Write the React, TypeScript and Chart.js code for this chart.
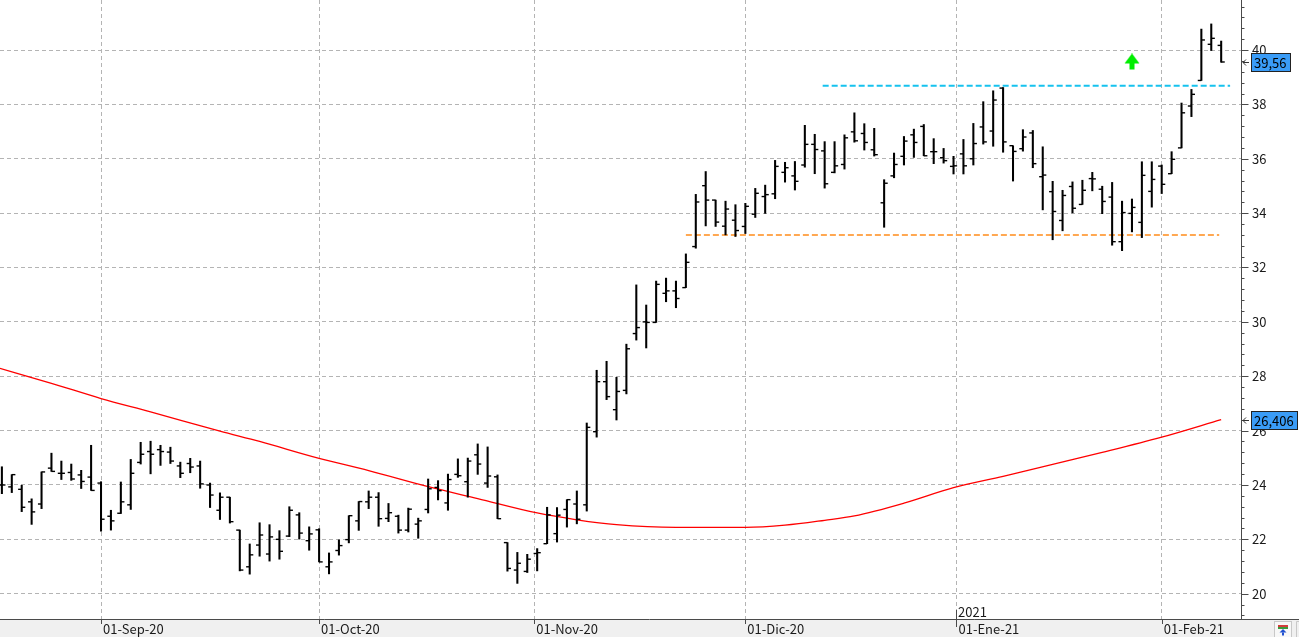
import React, { useEffect, useRef } from 'react';
import { Chart, registerables } from 'chart.js';

Chart.register(...registerables);

// ---------- DATA (daily OHLC, index 0 = first bar on the left) ----------
const opens = [
  24.0, 23.93, 23.84, 23.38, 23.3, 24.62, 24.43, 24.46, 24.37, 24.29,
  24.07, 22.85, 22.96, 23.27, 24.83, 25.23, 25.3, 25.21, 24.7, 24.79,
  24.7, 24.0, 23.07, 23.55, 22.34, 20.99, 21.79, 21.46, 22.0, 22.12,
  22.9, 21.95, 22.35, 20.99, 21.59, 21.99, 22.68, 23.38, 23.55, 22.77,
  22.85, 22.34, 22.56, 23.1, 23.91, 23.34, 24.39, 24.12, 25.11, 24.07,
  24.3, 21.88, 20.87, 20.82, 21.48, 21.84, 22.21, 23.1, 23.3, 23.27,
  25.96, 27.8, 26.77, 27.48, 29.57, 30.0, 29.98, 31.05, 31.14, 31.26,
  32.77, 35.01, 34.48, 33.52, 33.74, 33.51, 33.96, 34.61, 34.71, 35.5,
  35.37, 35.77, 36.53, 36.29, 35.5, 35.79, 36.99, 36.93, 36.33, 34.38,
  35.37, 36.09, 36.88, 37.19, 36.26, 36.04, 35.72, 36.18, 36.0, 37.17,
  37.02, 38.6, 36.48, 36.37, 36.95, 35.34, 34.79, 33.73, 34.98, 34.32,
  35.27, 34.88, 34.59, 32.95, 33.99, 33.66, 34.8, 35.73, 35.45, 36.4,
  37.94, 38.88, 40.21, 40.17,
];
const highs = [
  24.67, 24.38, 23.99, 23.49, 24.48, 25.17, 24.88, 24.77, 24.54, 25.46,
  24.12, 23.07, 24.11, 24.94, 25.57, 25.61, 25.46, 25.39, 24.84, 24.98,
  24.88, 24.07, 23.71, 23.55, 22.34, 21.83, 22.61, 22.54, 22.32, 23.2,
  22.98, 22.46, 22.39, 21.5, 21.98, 22.87, 23.39, 23.78, 23.72, 23.32,
  22.89, 23.15, 22.78, 24.22, 24.16, 24.4, 24.96, 24.99, 25.51, 25.4,
  24.37, 21.88, 21.52, 21.45, 21.66, 23.18, 23.17, 23.46, 23.78, 26.28,
  28.22, 28.55, 27.96, 29.18, 31.36, 30.62, 31.5, 31.61, 31.5, 32.5,
  34.69, 35.53, 34.48, 34.44, 34.31, 34.36, 34.91, 35.03, 35.94, 35.87,
  35.9, 37.23, 36.9, 36.63, 36.63, 36.88, 37.69, 37.29, 37.12, 35.23,
  36.21, 36.82, 37.09, 37.26, 36.74, 36.38, 36.09, 36.71, 37.3, 38.1,
  38.5, 38.62, 36.48, 37.07, 37.04, 36.44, 35.17, 34.84, 35.15, 35.21,
  35.5, 34.99, 35.13, 34.44, 34.52, 35.89, 35.89, 35.77, 36.26, 38.05,
  38.55, 40.77, 40.96, 40.33,
];
const lows = [
  23.68, 23.72, 23.02, 22.55, 23.13, 24.5, 24.2, 24.17, 23.87, 23.8,
  22.3, 22.34, 22.95, 23.1, 24.77, 24.41, 24.72, 24.79, 24.27, 24.45,
  23.88, 23.17, 22.73, 22.6, 20.84, 20.72, 21.38, 21.2, 21.27, 22.1,
  22.01, 21.6, 21.17, 20.73, 21.42, 21.87, 22.33, 23.13, 22.48, 22.65,
  22.23, 22.27, 22.04, 22.97, 23.45, 23.07, 24.28, 23.55, 24.39, 23.91,
  22.76, 20.83, 20.38, 20.78, 20.84, 21.84, 21.9, 22.45, 22.57, 23.04,
  25.76, 27.14, 26.39, 27.35, 29.33, 29.04, 29.98, 30.74, 30.52, 31.26,
  32.71, 33.53, 33.51, 33.2, 33.14, 33.25, 33.84, 33.99, 34.53, 35.14,
  34.85, 35.69, 35.45, 34.92, 35.48, 35.62, 36.61, 36.32, 36.1, 33.48,
  35.3, 35.77, 36.05, 36.11, 35.82, 35.84, 35.44, 35.44, 35.77, 36.54,
  36.46, 36.24, 35.18, 36.28, 35.67, 34.12, 33.02, 33.35, 34.01, 34.32,
  34.82, 33.98, 32.82, 32.62, 33.31, 33.1, 34.22, 34.72, 35.45, 36.4,
  37.55, 38.88, 39.98, 39.55,
];
const closes = [
  24.0, 24.38, 23.18, 23.01, 24.48, 24.5, 24.43, 24.22, 24.13, 23.8,
  22.74, 22.68, 23.38, 24.43, 25.13, 25.13, 25.23, 24.88, 24.43, 24.66,
  24.04, 23.63, 23.55, 22.65, 20.87, 21.43, 22.16, 22.09, 21.56, 23.07,
  22.23, 22.2, 21.17, 21.17, 21.77, 22.87, 23.39, 23.55, 22.76, 22.98,
  22.34, 23.11, 22.68, 23.86, 23.79, 24.2, 24.34, 24.88, 24.77, 24.33,
  22.76, 20.93, 21.12, 21.27, 21.51, 22.9, 22.89, 23.46, 22.74, 26.12,
  27.8, 27.25, 27.44, 29.01, 29.79, 29.98, 31.38, 31.14, 30.86, 32.19,
  34.41, 34.48, 33.67, 34.15, 33.36, 34.25, 34.73, 34.68, 35.72, 35.67,
  35.17, 36.53, 36.34, 35.08, 35.74, 36.77, 36.66, 36.6, 36.15, 35.1,
  35.79, 36.65, 36.6, 36.11, 36.26, 35.93, 35.74, 35.74, 36.56, 36.62,
  38.16, 36.62, 36.27, 36.8, 35.82, 35.4, 34.06, 34.65, 34.18, 34.84,
  35.26, 34.43, 32.95, 34.02, 34.21, 35.39, 35.24, 35.06, 35.98, 37.69,
  38.37, 40.37, 40.43, 39.56,
];

// moving average (x = bar index)
const maX = [-0.2, 5, 10, 15, 22, 26, 32, 37, 43, 48, 54, 58, 62, 68, 75, 79, 83, 86, 91, 96, 101, 106, 111, 117, 123];
const maY = [28.29, 27.74, 27.18, 26.69, 25.98, 25.6, 24.98, 24.53, 23.94, 23.5, 22.97, 22.72, 22.54, 22.44, 22.44, 22.52, 22.7, 22.86, 23.33, 23.9, 24.32, 24.76, 25.2, 25.76, 26.406];

const monthTicks = [10, 32, 53.7, 75, 96.3, 117];
const monthLabels = ['01-Sep-20', '01-Oct-20', '01-Nov-20', '01-Dic-20', '01-Ene-21', '01-Feb-21'];
const yearTick = 96.3;
const yearLabel = '2021';
const priceTicks = [20, 22, 24, 26, 28, 30, 32, 34, 36, 38, 40];

const resistanceLevel = 38.69;
const resistanceRange = [82.8, 123.9];
const supportLevel = 33.2;
const supportRange = [69, 122.8];
const arrowPoint = { x: 114, y: 39.56 };

const Y_MIN = 19.07;
const Y_MAX = 41.84;
const X_MIN = -0.19;
const X_MAX = 125;

const FONT = "'Noto Sans CJK KR', 'Noto Sans', sans-serif";
const TICK_OFF = 0.18;

function fmt(v: number): string {
  return String(v).replace('.', ',');
}

function makeArrow(): HTMLCanvasElement {
  const c = document.createElement('canvas');
  c.width = 16;
  c.height = 17;
  const g = c.getContext('2d')!;
  g.fillStyle = '#00ee00';
  g.beginPath();
  g.moveTo(8, 0);
  g.lineTo(15.5, 10);
  g.lineTo(10.5, 10);
  g.lineTo(10.5, 16);
  g.lineTo(5.5, 16);
  g.lineTo(5.5, 10);
  g.lineTo(0.5, 10);
  g.closePath();
  g.fill();
  return c;
}

const decorPlugin = {
  id: 'decor',
  beforeDraw(chart: any) {
    const { ctx, width, height, chartArea } = chart;
    ctx.save();
    ctx.fillStyle = '#ffffff';
    ctx.fillRect(0, 0, width, height);
    ctx.fillStyle = '#f0f0f0';
    ctx.fillRect(0, chartArea.bottom, width, height - chartArea.bottom);
    ctx.restore();
  },
  afterDraw(chart: any) {
    const { ctx, width, height, chartArea } = chart;
    const xs = chart.scales.x;
    const ys = chart.scales.y;
    const bottom = Math.round(chartArea.bottom);
    const right = Math.round(chartArea.right);
    ctx.save();
    ctx.strokeStyle = '#4a4a4a';
    ctx.lineWidth = 1;
    ctx.setLineDash([]);
    ctx.beginPath();
    ctx.moveTo(0, bottom + 0.5);
    ctx.lineTo(width, bottom + 0.5);
    ctx.moveTo(right + 0.5, 0);
    ctx.lineTo(right + 0.5, bottom);
    // right axis tick marks (minor every 0.4, major every 2)
    for (let k = 48; k <= 104; k++) {
      const v = k * 0.4;
      if (v < Y_MIN || v > Y_MAX) continue;
      const y = Math.round(ys.getPixelForValue(v)) + 0.5;
      const len = k % 5 === 0 ? 7 : 3;
      ctx.moveTo(right + 0.5, y);
      ctx.lineTo(right + 0.5 + len, y);
    }
    // bottom axis tick marks
    monthTicks.forEach((t) => {
      const x = Math.round(xs.getPixelForValue(t)) + 0.5;
      ctx.moveTo(x, bottom);
      ctx.lineTo(x, bottom + 5);
    });
    const yx = Math.round(xs.getPixelForValue(yearTick)) + 0.5;
    ctx.moveTo(yx, bottom - 9);
    ctx.lineTo(yx, bottom + 8);
    ctx.stroke();

    // year label
    ctx.fillStyle = '#1a1a1a';
    ctx.font = `13px ${FONT}`;
    ctx.textAlign = 'left';
    ctx.textBaseline = 'alphabetic';
    ctx.fillText(yearLabel, yx + 1.5, bottom - 2);

    // value boxes on the right axis
    const boxes = [closes[closes.length - 1], maY[maY.length - 1]];
    boxes.forEach((v) => {
      const y = Math.round(ys.getPixelForValue(v));
      const txt = fmt(v);
      ctx.font = `13px ${FONT}`;
      const w = Math.ceil(ctx.measureText(txt).width) + 6;
      const bx = right + 10.5;
      const by = y - 8.5;
      ctx.fillStyle = '#3a9cf7';
      ctx.fillRect(bx, by, w, 18);
      ctx.strokeStyle = '#222222';
      ctx.lineWidth = 1;
      ctx.strokeRect(bx, by, w, 18);
      ctx.fillStyle = '#000000';
      ctx.textBaseline = 'middle';
      ctx.fillText(txt, bx + 2.5, y + 1);
      // little pointer
      ctx.strokeStyle = '#333333';
      ctx.beginPath();
      ctx.moveTo(right + 8, y + 0.5);
      ctx.lineTo(right + 2, y + 0.5);
      ctx.moveTo(right + 5, y - 2.5);
      ctx.lineTo(right + 2, y + 0.5);
      ctx.lineTo(right + 5, y + 3.5);
      ctx.stroke();
    });

    // bottom-right toolbar icon
    ctx.fillStyle = '#f7f7f7';
    ctx.fillRect(1274.5, bottom + 2.5, 17, 17);
    ctx.strokeStyle = '#c8c8c8';
    ctx.strokeRect(1274.5, bottom + 2.5, 17, 17);
    ctx.fillStyle = '#d23c3c';
    ctx.fillRect(1278, bottom + 6, 10, 2);
    ctx.fillStyle = '#3a9a3a';
    ctx.fillRect(1278, bottom + 8, 10, 2);
    ctx.fillStyle = '#2050d0';
    ctx.beginPath();
    ctx.moveTo(1283, bottom + 10);
    ctx.lineTo(1286.5, bottom + 13.5);
    ctx.lineTo(1279.5, bottom + 13.5);
    ctx.closePath();
    ctx.fill();
    ctx.fillRect(1282, bottom + 13.5, 2, 3);
    ctx.strokeStyle = '#c8c8c8';
    ctx.beginPath();
    ctx.moveTo(1296.5, bottom + 2.5);
    ctx.lineTo(1296.5, height);
    ctx.moveTo(1296.5, bottom + 2.5);
    ctx.lineTo(width, bottom + 2.5);
    ctx.stroke();
    ctx.restore();
  },
};

export default function App() {
  const ref = useRef<HTMLCanvasElement | null>(null);

  useEffect(() => {
    document.body.style.margin = '0';
    const canvas = ref.current;
    if (!canvas) return;
    const arrowImg = makeArrow();
    const idx = closes.map((_, i) => i);

    const chart = new Chart(canvas, {
      type: 'bar',
      data: {
        datasets: [
          {
            type: 'line',
            label: 'MA',
            data: maX.map((x, i) => ({ x, y: maY[i] })),
            borderColor: '#ff0000',
            borderWidth: 1.3,
            pointRadius: 0,
            cubicInterpolationMode: 'monotone',
            order: 5,
          } as any,
          {
            type: 'line',
            label: 'resistance',
            data: resistanceRange.map((x) => ({ x, y: resistanceLevel })),
            borderColor: '#16c2ee',
            borderWidth: 2,
            borderDash: [6, 3],
            pointRadius: 0,
            order: 4,
          } as any,
          {
            type: 'line',
            label: 'support',
            data: supportRange.map((x) => ({ x, y: supportLevel })),
            borderColor: '#ffa852',
            borderWidth: 2,
            borderDash: [6, 3],
            pointRadius: 0,
            order: 4,
          } as any,
          {
            type: 'bar',
            label: 'range',
            data: idx.map((i) => ({ x: i, y: [lows[i], highs[i]] })),
            backgroundColor: '#000000',
            borderWidth: 0,
            barThickness: 1.4,
            grouped: false,
            order: 1,
          } as any,
          {
            type: 'scatter',
            label: 'open',
            data: idx.map((i) => ({ x: i - TICK_OFF, y: opens[i] })),
            pointStyle: 'line',
            pointRadius: 1.8,
            pointHoverRadius: 1.8,
            borderColor: '#000000',
            borderWidth: 1.4,
            order: 0,
          } as any,
          {
            type: 'scatter',
            label: 'close',
            data: idx.map((i) => ({ x: i + TICK_OFF, y: closes[i] })),
            pointStyle: 'line',
            pointRadius: 1.8,
            pointHoverRadius: 1.8,
            borderColor: '#000000',
            borderWidth: 1.4,
            order: 0,
          } as any,
          {
            type: 'scatter',
            label: 'signal',
            data: [arrowPoint],
            pointStyle: arrowImg,
            pointRadius: 8,
            order: 0,
          } as any,
        ],
      },
      options: {
        responsive: false,
        devicePixelRatio: 1,
        animation: false,
        events: [],
        layout: { padding: 0, autoPadding: false },
        plugins: {
          legend: { display: false },
          tooltip: { enabled: false },
        },
        scales: {
          x: {
            type: 'linear',
            min: X_MIN,
            max: X_MAX,
            offset: false,
            afterBuildTicks: (s: any) => {
              s.ticks = monthTicks.map((v) => ({ value: v }));
            },
            afterFit: (s: any) => {
              s.height = 18;
              s.paddingLeft = 0;
              s.paddingRight = 0;
            },
            ticks: {
              autoSkip: false,
              maxRotation: 0,
              minRotation: 0,
              align: 'start',
              labelOffset: 2,
              padding: 2,
              color: '#1a1a1a',
              font: { family: FONT, size: 13 },
              callback: (_v: any, i: number) => monthLabels[i],
            },
            grid: {
              color: '#b4b4b4',
              lineWidth: 1,
              drawTicks: false,
              offset: false,
            },
            border: { display: false, dash: [4, 3] },
          },
          y: {
            type: 'linear',
            position: 'right',
            min: Y_MIN,
            max: Y_MAX,
            afterBuildTicks: (s: any) => {
              s.ticks = priceTicks.map((v) => ({ value: v }));
            },
            afterFit: (s: any) => {
              s.width = 58;
              s.paddingTop = 0;
              s.paddingBottom = 0;
            },
            ticks: {
              padding: 11,
              color: '#1a1a1a',
              font: { family: FONT, size: 13 },
              callback: (v: any) => String(v),
            },
            grid: {
              color: '#b4b4b4',
              lineWidth: 1,
              drawTicks: false,
            },
            border: { display: false, dash: [4, 3] },
          },
        },
      } as any,
      plugins: [decorPlugin],
    });

    return () => {
      chart.destroy();
    };
  }, []);

  return (
    <div style={{ position: 'fixed', left: 0, top: 0, width: 1299, height: 637, background: '#ffffff' }}>
      <canvas ref={ref} width={1299} height={637} style={{ display: 'block', width: 1299, height: 637 }} />
    </div>
  );
}
